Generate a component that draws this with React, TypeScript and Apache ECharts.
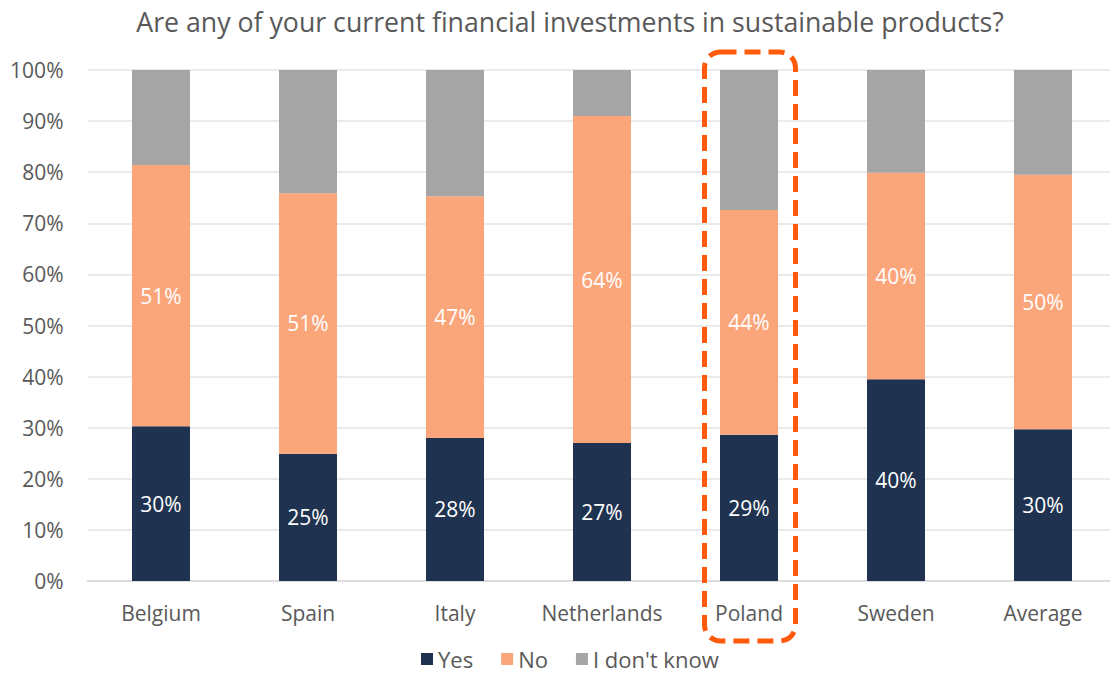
import React, { useEffect, useRef } from "react";
import * as echarts from "echarts";

const categories = ["Belgium", "Spain", "Italy", "Netherlands", "Poland", "Sweden", "Average"];
const yesValues = [30.3, 24.9, 28.0, 27.0, 28.6, 39.5, 29.7];
const noValues = [51.1, 51.0, 47.3, 64.0, 44.0, 40.4, 49.8];
const dontKnowValues = [18.6, 24.1, 24.7, 9.0, 27.4, 20.1, 20.5];
const seriesNames = ["Yes", "No", "I don't know"];
const titleText = "Are any of your current financial investments in sustainable products?";

const FONT = "'Open Sans', 'Noto Sans', sans-serif";
const TEXT = "#595959";

export default function App() {
  const ref = useRef<HTMLDivElement>(null);
  useEffect(() => {
    if (!ref.current) return;
    const chart = echarts.init(ref.current, undefined, { renderer: "svg" });
    const label = {
      show: true,
      position: "inside",
      color: "#ffffff",
      fontSize: 21,
      fontFamily: FONT,
      formatter: (p: any) => Math.round(p.value) + "%",
    };
    chart.setOption({
      animation: false,
      textStyle: { fontFamily: FONT },
      title: {
        text: titleText,
        left: 565,
        textAlign: "center",
        top: 3,
        textStyle: { fontSize: 26.7, fontWeight: "normal", color: TEXT, fontFamily: FONT },
      },
      legend: {
        data: seriesNames,
        bottom: -2,
        left: 416,
        icon: "rect",
        itemWidth: 12,
        itemHeight: 12,
        itemGap: 28,
        textStyle: { fontSize: 22, color: TEXT, fontFamily: FONT },
      },
      grid: { left: 87.5, top: 70, width: 1029, height: 511, containLabel: false, outerBoundsMode: "none" },
      xAxis: {
        type: "category",
        data: categories,
        axisLine: { show: true, lineStyle: { color: "#d9d9d9", width: 1.5 } },
        axisTick: { show: false },
        axisLabel: { fontSize: 21, color: TEXT, margin: 21, fontFamily: FONT, interval: 0 },
      },
      yAxis: {
        type: "value",
        min: 0,
        max: 100,
        interval: 10,
        axisLine: { show: false },
        axisTick: { show: false },
        axisLabel: { formatter: "{value}%", fontSize: 21, color: TEXT, margin: 24, fontFamily: FONT },
        splitLine: { lineStyle: { color: "#e3e3e3", width: 1.5 } },
      },
      series: [
        { name: seriesNames[0], type: "bar", stack: "t", data: yesValues, barWidth: 58, itemStyle: { color: "#1f3350" }, label },
        { name: seriesNames[1], type: "bar", stack: "t", data: noValues, itemStyle: { color: "#fba57b" }, label },
        { name: seriesNames[2], type: "bar", stack: "t", data: dontKnowValues, itemStyle: { color: "#a5a5a5" } },
      ],
      graphic: [
        {
          type: "rect",
          shape: { x: 704.5, y: 52, width: 91, height: 589, r: 16 },
          style: { fill: "none", stroke: "#ff5a0a", lineWidth: 5, lineDash: [16, 8] },
          z: 100,
        },
      ],
    });
    return () => chart.dispose();
  }, []);
  return <div ref={ref} style={{ position: "fixed", left: 0, top: 0, width: 1110, height: 673, background: "#fff" }} />;
}
